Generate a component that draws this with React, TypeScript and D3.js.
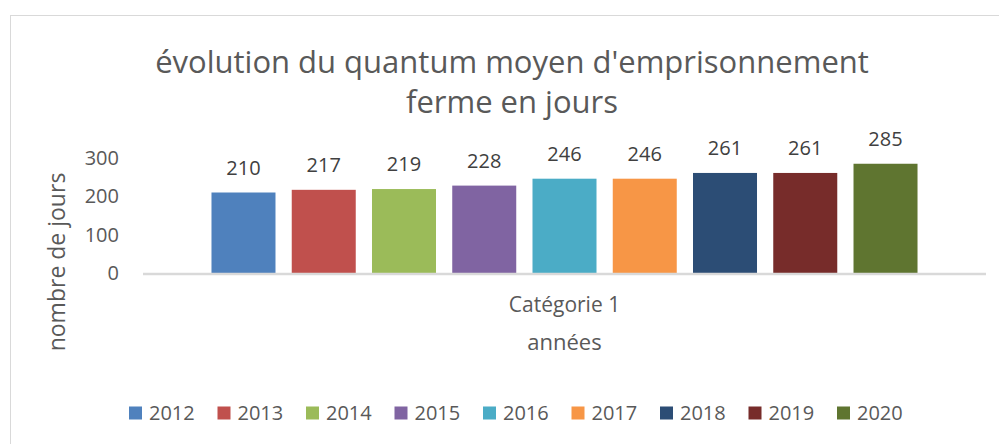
import React from 'react';
import * as d3 from "d3";

const years = ["2012", "2013", "2014", "2015", "2016", "2017", "2018", "2019", "2020"];
const values = [210, 217, 219, 228, 246, 246, 261, 261, 285];
const colors = ["#4F81BD", "#C0504D", "#9BBB59", "#8064A2", "#4BACC6", "#F79646", "#2C4D75", "#772C2A", "#5F7530"];
const yTicks = [0, 100, 200, 300];
const category = "Catégorie 1";

const W = 999, H = 444;
const font = "'Open Sans', sans-serif";
const textColor = "#595959";

const App = () => {
    const plotLeft = 143, plotRight = 986, plotTop = 158, plotBottom = 273;

    // one category band, bars of each year grouped inside it
    const outer = d3.scaleBand()
        .domain([category])
        .range([plotLeft, plotRight])
        .paddingOuter(0.097);

    const x = d3.scaleBand()
        .domain(years)
        .range([outer(category), outer(category) + outer.bandwidth()])
        .paddingInner(0.2025)
        .paddingOuter(0);

    const y = d3.scaleLinear()
        .domain([0, 300])
        .range([plotBottom, plotTop]);

    const legendStep = 88.5;
    const legendLeft = 129;
    const cx = outer(category) + outer.bandwidth() / 2;

    return (
        <svg width={W} height={H} style={{ position: 'absolute', left: 0, top: 0, background: '#fff' }}
            fontFamily={font}>
            <rect x={10.5} y={15.5} width={1010} height={440} fill="#fff" stroke="#D9D9D9" strokeWidth={1} />

            <text x={512} y={73} textAnchor="middle" fontSize={31} fill={textColor}>
                évolution du quantum moyen d'emprisonnement
            </text>
            <text x={512} y={113} textAnchor="middle" fontSize={31} fill={textColor}>
                ferme en jours
            </text>

            {yTicks.map((t) => (
                <text key={t} x={119} y={y(t)} dy="0.35em" textAnchor="end" fontSize={20} fill={textColor}>
                    {t}
                </text>
            ))}

            {values.map((v, i) => (
                <g key={years[i]}>
                    <rect x={x(years[i])} y={y(v)} width={x.bandwidth()} height={y(0) - y(v)} fill={colors[i]} />
                    <text x={x(years[i]) + x.bandwidth() / 2} y={y(v) - 18} textAnchor="middle"
                        fontSize={20} fill="#404040">
                        {v}
                    </text>
                </g>
            ))}

            <line x1={plotLeft} x2={plotRight} y1={plotBottom + 1} y2={plotBottom + 1} stroke="#D9D9D9" strokeWidth={2.5} />

            <text x={cx} y={312} textAnchor="middle" fontSize={21} fill={textColor}>
                {category}
            </text>
            <text x={cx} y={350} textAnchor="middle" fontSize={22} fill={textColor}>
                années
            </text>
            <text transform={`translate(65, 262) rotate(-90)`} textAnchor="middle" fontSize={23} fill={textColor}>
                nombre de jours
            </text>

            {years.map((yr, i) => (
                <g key={yr} transform={`translate(${legendLeft + i * legendStep}, 413)`}>
                    <rect x={0} y={-6.5} width={13} height={13} fill={colors[i]} />
                    <text x={20} y={0} dy="0.35em" fontSize={20} fill={textColor}>{yr}</text>
                </g>
            ))}
        </svg>
    );
};

export default App;
